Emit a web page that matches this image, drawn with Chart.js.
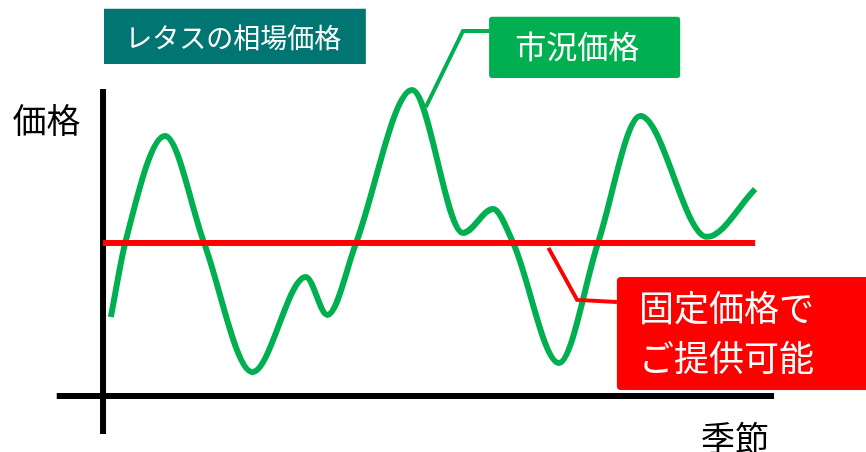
<!DOCTYPE html>
<html lang="ja">
<head>
<meta charset="utf-8">
<script src="https://cdn.jsdelivr.net/npm/chart.js@4.4.0/dist/chart.umd.min.js"></script>
<style>
  html, body { margin: 0; padding: 0; background: #fff; }
  #wrap { position: relative; width: 866px; height: 452px; }
</style>
</head>
<body>
<div id="wrap"><canvas id="lettuceChart"></canvas></div>
<script>
// 季節 (x) と 価格 (y) の概念図 — 値は図から読み取り
const seasonX = [1.2, 3.4, 9.5, 15.5, 22.9, 31.1, 34.4, 38.8, 47.4, 55.2, 59.8, 62.9, 69.9, 75.9, 82.4, 92.6, 100];
const marketPrice = [25.8, 50, 85.0, 50, 7.8, 38.9, 26.5, 50, 100, 53.3, 61.1, 50, 10.8, 50, 91.5, 52, 67.6];
const fixedPriceX = [0, 100];
const fixedPrice = [50, 50];

// axes (cross shape) and callout leader lines
const axisXLine = [[-7.1, 0], [102.9, 0]];
const axisYLine = [[0, 100.3], [0, -12.4]];
const marketLeader = [[59.2, 119.3], [55.2, 119.3], [49.5, 94.4]];
const fixedLeader = [[78.8, 30.7], [72.7, 31.4], [68.3, 48.4]];

const toPoints = (xs, ys) => xs.map((x, i) => ({ x: x, y: ys[i] }));
const pairs = (arr) => arr.map(p => ({ x: p[0], y: p[1] }));

const JP = '"Noto Sans CJK JP", "Noto Sans", sans-serif';

// text boxes drawn at scale positions
const labelPlugin = {
    id: 'labels',
    afterDatasetsDraw(chart) {
        const ctx = chart.ctx;
        const xs = chart.scales.x;
        const ys = chart.scales.y;
        const px = v => xs.getPixelForValue(v);
        const py = v => ys.getPixelForValue(v);

        function box(x1, y1, x2, y2, color, r) {
            const l = px(x1), t = py(y1), w = px(x2) - l, h = py(y2) - t;
            ctx.save();
            ctx.fillStyle = color;
            ctx.beginPath();
            if (ctx.roundRect) ctx.roundRect(l, t, w, h, r); else ctx.rect(l, t, w, h);
            ctx.fill();
            ctx.restore();
        }
        function text(str, x, y, size, color) {
            ctx.save();
            ctx.font = size + 'px ' + JP;
            ctx.fillStyle = color;
            ctx.textAlign = 'left';
            ctx.textBaseline = 'middle';
            ctx.fillText(str, px(x), py(y));
            ctx.restore();
        }

        // タイトル
        box(0.15, 126.5, 40.3, 108.5, '#007571', 0);
        text('レタスの相場価格', 3.4, 117.2, 27, '#ffffff');

        // 市況価格
        box(59.2, 123.9, 88.5, 103.9, '#00B050', 3);
        text('市況価格', 63.2, 114.4, 31, '#ffffff');

        // 固定価格でご提供可能
        box(78.8, 38.9, 120, 2.0, '#FF0000', 4);
        text('固定価格で', 82.2, 29.0, 35, '#ffffff');
        text('ご提供可能', 82.2, 12.6, 35, '#ffffff');

        // 軸ラベル
        text('価格', -13.9, 90.2, 34, '#000000');
        text('季節', 91.7, -13.7, 34, '#000000');
    }
};

new Chart(document.getElementById('lettuceChart').getContext('2d'), {
    type: 'line',
    data: {
        datasets: [
            {
                label: '固定価格',
                data: toPoints(fixedPriceX, fixedPrice),
                borderColor: '#FF0000',
                borderWidth: 6,
                pointRadius: 0,
                tension: 0,
                order: 0
            },
            {
                label: '固定価格 leader',
                data: pairs(fixedLeader),
                borderColor: '#FF0000',
                borderWidth: 4,
                pointRadius: 0,
                tension: 0,
                order: 0
            },
            {
                label: '市況価格',
                data: toPoints(seasonX, marketPrice),
                borderColor: '#00B050',
                borderWidth: 6,
                pointRadius: 0,
                cubicInterpolationMode: 'monotone',
                order: 1
            },
            {
                label: '市況価格 leader',
                data: pairs(marketLeader),
                borderColor: '#00B050',
                borderWidth: 4,
                pointRadius: 0,
                tension: 0,
                order: 1
            },
            {
                label: 'x axis',
                data: pairs(axisXLine),
                borderColor: '#000000',
                borderWidth: 6,
                pointRadius: 0,
                order: 2
            },
            {
                label: 'y axis',
                data: pairs(axisYLine),
                borderColor: '#000000',
                borderWidth: 6,
                pointRadius: 0,
                order: 2
            }
        ]
    },
    options: {
        responsive: true,
        maintainAspectRatio: false,
        animation: false,
        layout: { padding: 0 },
        plugins: {
            legend: { display: false },
            tooltip: { enabled: false }
        },
        scales: {
            x: { type: 'linear', display: false, min: -15.8, max: 117.0 },
            y: { type: 'linear', display: false, min: -18.3, max: 129.4 }
        },
        elements: { line: { borderCapStyle: 'butt', borderJoinStyle: 'miter' } }
    },
    plugins: [labelPlugin]
});
</script>
</body>
</html>
